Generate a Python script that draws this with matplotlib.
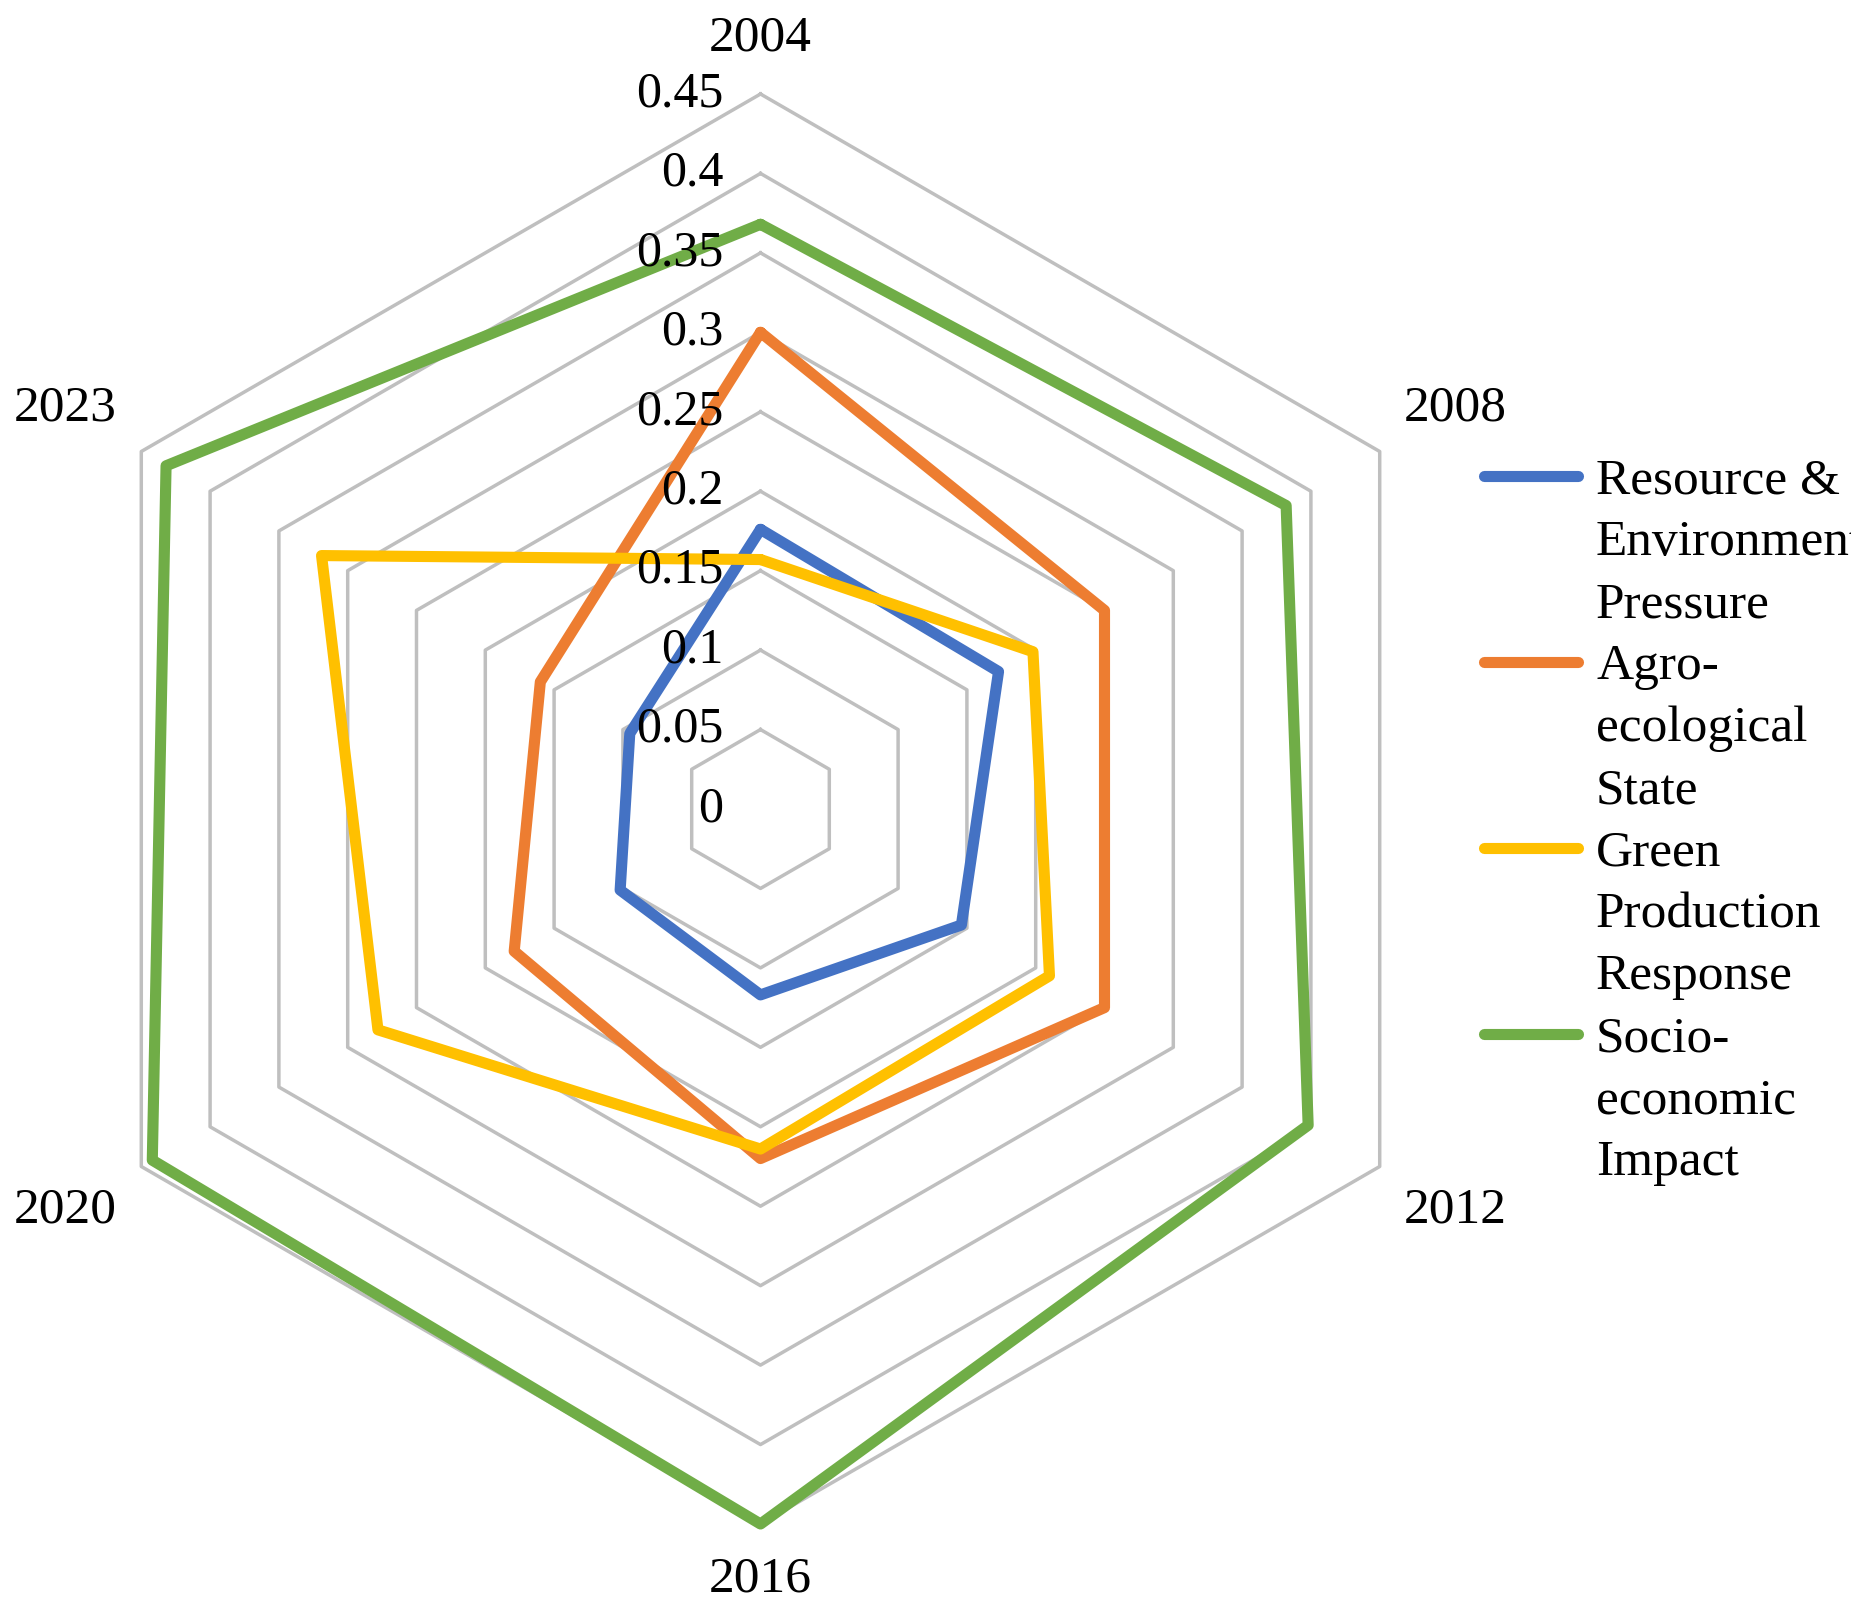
import numpy as np
import matplotlib
matplotlib.use('Agg')
import matplotlib.pyplot as plt
from matplotlib.lines import Line2D

plt.rcParams['font.family'] = ['Liberation Serif', 'DejaVu Serif']

# --- data ---
years = ['2004', '2008', '2012', '2016', '2020', '2023']
resource_env = [0.176, 0.173, 0.146, 0.117, 0.102, 0.095]
agro_eco = [0.300, 0.250, 0.250, 0.220, 0.179, 0.160]
green_prod = [0.157, 0.198, 0.210, 0.214, 0.278, 0.319]
socio_eco = [0.368, 0.382, 0.398, 0.450, 0.442, 0.432]
series_names = ['Resource &\nEnvironment\nPressure', 'Agro-\necological\nState',
                'Green\nProduction\nResponse', 'Socio-\neconomic\nImpact']
ring_ticks = [0, 0.05, 0.1, 0.15, 0.2, 0.25, 0.3, 0.35, 0.4, 0.45]

colors = ['#4472C4', '#ED7D31', '#FFC000', '#70AD47']
grid_col = '#BFBFBF'

W, H = 1851, 1619
fig = plt.figure(figsize=(W / 100, H / 100), dpi=100)

# center of the radar in pixels, and radius of the 0.45 ring
cx, cy, R = 760.5, 809, 715
ax = fig.add_axes([(cx - R) / W, (H - cy - R) / H, 2 * R / W, 2 * R / H])
rmax = ring_ticks[-1]
ax.set_xlim(-rmax, rmax)
ax.set_ylim(-rmax, rmax)
ax.axis('off')

# clockwise from the top
angles = np.deg2rad(90 - np.arange(len(years)) * 360 / len(years))


def to_xy(vals):
    v = np.asarray(list(vals) + [vals[0]])
    a = np.append(angles, angles[0])
    return v * np.cos(a), v * np.sin(a)


# hexagon grid
for t in ring_ticks[1:]:
    x, y = to_xy([t] * len(years))
    ax.plot(x, y, color=grid_col, lw=2.5, zorder=1, clip_on=False)

# series
all_series = [resource_env, agro_eco, green_prod, socio_eco]
for i, s in enumerate(all_series):
    x, y = to_xy(s)
    ax.plot(x, y, color=colors[i], lw=8, solid_joinstyle='round',
            solid_capstyle='round', zorder=2 + i, clip_on=False)

# ring value labels along the top spoke
for t in ring_ticks:
    ax.text(-0.0236, t, f'{t:g}', ha='right', va='center', fontsize=36, zorder=10)

# category labels
for a, yr in zip(angles, years):
    r_lab = 0.485 if abs(np.cos(a)) < 0.1 else 0.505
    ax.text(r_lab * np.cos(a), r_lab * np.sin(a), yr, ha='center', va='center',
            fontsize=37)

# legend drawn by hand: handle sits on the first line of each label
line_h = 62
for i, name in enumerate(series_names):
    yc = 476 + i * 3 * line_h
    fig.add_artist(Line2D([1484 / W, 1578 / W], [1 - yc / H, 1 - yc / H],
                          color=colors[i], lw=8, solid_capstyle='round'))
    for k, part in enumerate(name.split('\n')):
        fig.text(1596 / W, 1 - (yc + 17 + k * line_h) / H, part,
                 ha='left', va='baseline', fontsize=37)

fig.savefig('out.png', dpi=100, facecolor='white')
